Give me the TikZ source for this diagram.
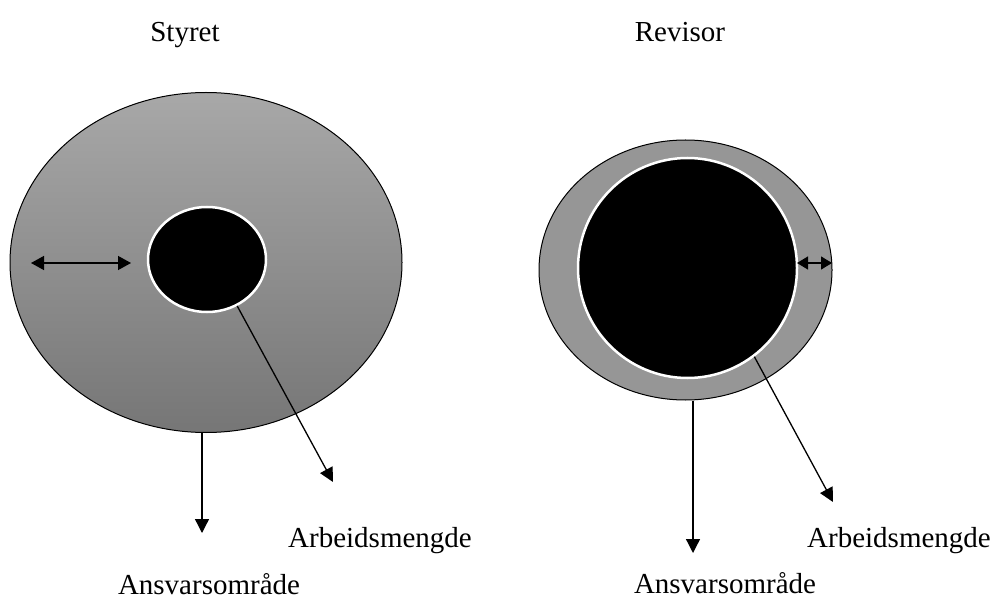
\documentclass[tikz,border=0pt]{standalone}
\usepackage{fontspec}
\setmainfont{Liberation Serif}
\usetikzlibrary{shapes.geometric,arrows.meta}
\definecolor{outertop}{RGB}{168,168,168}
\definecolor{outerbot}{RGB}{118,118,118}
\definecolor{outerflat}{RGB}{150,150,150}
\begin{document}
\begin{tikzpicture}[x=1pt,y=-1pt,
  outer/.style={ellipse, draw=black, line width=1pt, inner sep=0pt},
  inner/.style={ellipse, draw=white, line width=2.5pt, fill=black, inner sep=0pt},
  lbl/.style={anchor=base, font=\fontsize{29}{32}\selectfont, inner sep=0pt},
  arr/.style={line width=1.3pt, -{Triangle[length=14pt,width=14pt]}},
  darr/.style={line width=1.3pt, {Triangle[length=13pt,width=14pt]}-{Triangle[length=13pt,width=14pt]}},
  sdarr/.style={line width=1.3pt, {Triangle[length=11pt,width=13pt]}-{Triangle[length=11pt,width=13pt]}}]
\useasboundingbox (0,0) rectangle (992,601);
% left
\node[outer, minimum width=392pt, minimum height=340pt, top color=outertop, bottom color=outerbot] (L) at (206,262.5) {};
\node[inner, minimum width=118pt, minimum height=105pt] (Li) at (207,259.5) {};
\coordinate (Lda) at (31,263);
\coordinate (Ldb) at (131,263);
\draw[darr] (Lda) -- (Ldb);
\coordinate (Lw) at (333,482);
\coordinate (La) at (202,533);
\draw[arr] (Li.-57) -- (Lw);
\draw[arr] (L.south -| La) -- (La);
\node[lbl] (Ls) at (185,42) {Styret};
\node[lbl] (Lwt) at (380,547) {Arbeidsmengde};
\node[lbl] (Lat) at (209,594) {Ansvarsområde};
% right
\node[outer, minimum width=293pt, minimum height=260pt, fill=outerflat] (R) at (685.5,270) {};
\node[inner, minimum width=219pt, minimum height=220pt] (Ri) at (687.5,268) {};
\coordinate (Rda) at (797,263);
\coordinate (Rdb) at (832,263);
\draw[sdarr] (Rda) -- (Rdb);
\coordinate (Rw) at (833,502);
\coordinate (Ra) at (693,553);
\draw[arr] (Ri.-53) -- (Rw);
\draw[arr] (R.south -| Ra) -- (Ra);
\node[lbl] (Rs) at (680,42) {Revisor};
\node[lbl] (Rwt) at (899,547) {Arbeidsmengde};
\node[lbl] (Rat) at (725,593) {Ansvarsområde};
\end{tikzpicture}
\end{document}
